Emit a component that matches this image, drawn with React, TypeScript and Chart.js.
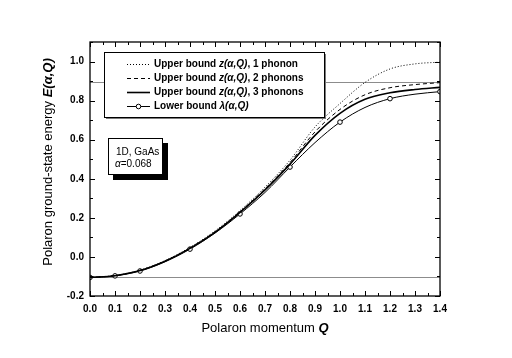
import React, { useEffect, useRef } from "react";
import { Chart, registerables } from "chart.js";

Chart.register(...registerables);

const qValues = [0, 0.1, 0.2, 0.3, 0.4, 0.5, 0.6, 0.7, 0.8, 0.9, 1.0, 1.1, 1.2, 1.3, 1.4];
const upper1 = [-0.105, -0.095, -0.068, -0.019, 0.049, 0.133, 0.237, 0.357, 0.495, 0.665, 0.785, 0.893, 0.962, 0.988, 0.997];
const upper2 = [-0.105, -0.096, -0.069, -0.021, 0.046, 0.129, 0.231, 0.349, 0.483, 0.640, 0.755, 0.830, 0.866, 0.882, 0.892];
const upper3 = [-0.105, -0.096, -0.070, -0.022, 0.044, 0.126, 0.228, 0.343, 0.475, 0.622, 0.735, 0.807, 0.840, 0.857, 0.868];
const lower = [-0.105, -0.097, -0.072, -0.025, 0.040, 0.122, 0.220, 0.330, 0.460, 0.585, 0.690, 0.765, 0.810, 0.833, 0.846];
const lowerMarkerQ = [0, 0.1, 0.2, 0.4, 0.6, 0.8, 1.0, 1.2, 1.4];
const groundLevel = -0.105;
const thresholdLevel = 0.895;
const xTicks = [0, 0.1, 0.2, 0.3, 0.4, 0.5, 0.6, 0.7, 0.8, 0.9, 1.0, 1.1, 1.2, 1.3, 1.4];
const yTicks = [-0.2, 0, 0.2, 0.4, 0.6, 0.8, 1.0];
const legendLabels = ["1 phonon", "2 phonons", "3 phonons"];

const FONT = "'Liberation Sans', Arial, sans-serif";

function drawMixed(ctx: CanvasRenderingContext2D, parts: { t: string; f: string }[], x: number, y: number, align: "left" | "center") {
  let total = 0;
  for (const p of parts) {
    ctx.font = p.f;
    total += ctx.measureText(p.t).width;
  }
  let cx = align === "center" ? x - total / 2 : x;
  ctx.textAlign = "left";
  ctx.textBaseline = "middle";
  for (const p of parts) {
    ctx.font = p.f;
    ctx.fillText(p.t, cx, y);
    cx += ctx.measureText(p.t).width;
  }
}

const framePlugin = {
  id: "frame",
  beforeDatasetsDraw(chart: any) {
    const { ctx, chartArea: a, scales } = chart;
    const ys = scales.y;
    ctx.save();
    ctx.strokeStyle = "#8c8c8c";
    ctx.lineWidth = 1;
    for (const v of [groundLevel, thresholdLevel]) {
      const py = Math.round(ys.getPixelForValue(v)) + 0.5;
      ctx.beginPath();
      ctx.moveTo(a.left, py);
      ctx.lineTo(a.right, py);
      ctx.stroke();
    }
    ctx.restore();
  },
  afterDatasetsDraw(chart: any) {
    const { ctx, chartArea: a, scales } = chart;
    const xs = scales.x;
    const ys = scales.y;
    ctx.save();
    ctx.strokeStyle = "#000";
    ctx.lineWidth = 1.3;
    ctx.strokeRect(a.left, a.top, a.right - a.left, a.bottom - a.top);
    ctx.lineWidth = 1;
    for (let i = 0; i <= 28; i++) {
      const v = i * 0.05;
      const px = Math.round(xs.getPixelForValue(v)) + 0.5;
      const len = i % 2 === 0 ? 5 : 3;
      ctx.beginPath();
      ctx.moveTo(px, a.bottom);
      ctx.lineTo(px, a.bottom - len);
      ctx.moveTo(px, a.top);
      ctx.lineTo(px, a.top + len);
      ctx.stroke();
    }
    for (let i = -2; i <= 11; i++) {
      const v = i * 0.1;
      const py = Math.round(ys.getPixelForValue(v)) + 0.5;
      const len = i % 2 === 0 ? 5 : 3;
      ctx.beginPath();
      ctx.moveTo(a.left, py);
      ctx.lineTo(a.left + len, py);
      ctx.moveTo(a.right, py);
      ctx.lineTo(a.right - len, py);
      ctx.stroke();
    }

    // legend box
    const lx = 104, ly = 52, lw = 220, lh = 65;
    ctx.fillStyle = "#7a7a7a";
    ctx.fillRect(lx + 2, ly + 2, lw, lh);
    ctx.fillStyle = "#fff";
    ctx.fillRect(lx, ly, lw, lh);
    ctx.strokeStyle = "#000";
    ctx.lineWidth = 1;
    ctx.strokeRect(lx + 0.5, ly + 0.5, lw, lh);
    const rows = [64, 78, 92, 106];
    const dashes = [[1, 2], [4, 3], [], []];
    const widths = [1, 1, 1.6, 1];
    const bold = `bold 10px ${FONT}`;
    const boldIt = `italic bold 10px ${FONT}`;
    for (let i = 0; i < 4; i++) {
      const ry = rows[i] + 0.5;
      ctx.strokeStyle = "#000";
      ctx.lineWidth = widths[i];
      ctx.setLineDash(dashes[i]);
      ctx.beginPath();
      ctx.moveTo(127, ry);
      ctx.lineTo(150, ry);
      ctx.stroke();
      ctx.setLineDash([]);
      if (i === 3) {
        ctx.lineWidth = 1;
        ctx.fillStyle = "#fff";
        ctx.beginPath();
        ctx.arc(138.5, ry, 2.3, 0, Math.PI * 2);
        ctx.fill();
        ctx.stroke();
      }
      ctx.fillStyle = "#000";
      if (i < 3) {
        drawMixed(ctx, [
          { t: "Upper bound ", f: bold },
          { t: "z(\u03b1,Q)", f: boldIt },
          { t: ", " + legendLabels[i], f: bold },
        ], 154, rows[i] + 0.5, "left");
      } else {
        drawMixed(ctx, [
          { t: "Lower bound ", f: bold },
          { t: "\u03bb(\u03b1,Q)", f: boldIt },
        ], 154, rows[i] + 0.5, "left");
      }
    }

    // info box
    const bx = 108, by = 138, bw = 55, bh = 37;
    ctx.fillStyle = "#000";
    ctx.fillRect(bx + 5, by + 5, bw, bh);
    ctx.fillStyle = "#fff";
    ctx.fillRect(bx, by, bw, bh);
    ctx.strokeStyle = "#000";
    ctx.lineWidth = 1;
    ctx.strokeRect(bx + 0.5, by + 0.5, bw - 1, bh - 1);
    ctx.fillStyle = "#000";
    drawMixed(ctx, [{ t: "1D, GaAs", f: `10px ${FONT}` }], 116, 152, "left");
    drawMixed(ctx, [
      { t: "\u03b1", f: `italic 10px ${FONT}` },
      { t: "=0.068", f: `10px ${FONT}` },
    ], 115, 164.5, "left");

    // axis titles
    const reg = `13px ${FONT}`;
    const bi = `italic bold 13px ${FONT}`;
    drawMixed(ctx, [
      { t: "Polaron momentum ", f: reg },
      { t: "Q", f: bi },
    ], 265, 328, "center");
    ctx.save();
    ctx.translate(48, 162);
    ctx.rotate(-Math.PI / 2);
    drawMixed(ctx, [
      { t: "Polaron ground-state energy ", f: reg },
      { t: "E(\u03b1,Q)", f: bi },
    ], 0, 0, "center");
    ctx.restore();
    ctx.restore();
  },
};

function toPts(ys: number[]) {
  return qValues.map((q, i) => ({ x: q, y: ys[i] }));
}

export default function App() {
  const ref = useRef<HTMLCanvasElement | null>(null);
  useEffect(() => {
    if (!ref.current) return;
    const common = {
      borderColor: "#000",
      cubicInterpolationMode: "monotone" as const,
      pointRadius: 0,
      fill: false,
    };
    const chart = new Chart(ref.current, {
      type: "line",
      data: {
        datasets: [
          { ...common, label: "1 phonon", data: toPts(upper1), borderWidth: 1, borderDash: [1, 2] },
          { ...common, label: "2 phonons", data: toPts(upper2), borderWidth: 1, borderDash: [4, 3] },
          { ...common, label: "3 phonons", data: toPts(upper3), borderWidth: 1.6 },
          {
            ...common,
            label: "lower",
            data: toPts(lower),
            borderWidth: 1,
            pointRadius: qValues.map((q) => (lowerMarkerQ.some((m) => Math.abs(m - q) < 1e-9) ? 2.3 : 0)),
            pointBackgroundColor: "#fff",
            pointBorderColor: "#000",
            pointBorderWidth: 1,
          },
        ],
      },
      options: {
        responsive: false,
        animation: false,
        devicePixelRatio: 1,
        layout: { padding: { left: 0, top: 42, right: 72, bottom: 0 } },
        plugins: { legend: { display: false }, tooltip: { enabled: false } },
        scales: {
          x: {
            type: "linear",
            min: 0,
            max: 1.4,
            afterBuildTicks: (s: any) => {
              s.ticks = xTicks.map((v) => ({ value: v }));
            },
            afterFit: (s: any) => {
              s.height = 62;
            },
            ticks: {
              callback: (v: any) => Number(v).toFixed(1),
              font: { family: FONT, size: 10, weight: "bold" },
              color: "#000",
              padding: 7,
              maxRotation: 0,
              autoSkip: false,
            },
            grid: { display: false, drawTicks: false },
            border: { display: false },
          },
          y: {
            type: "linear",
            min: -0.2,
            max: 1.1,
            afterBuildTicks: (s: any) => {
              s.ticks = yTicks.map((v) => ({ value: v }));
            },
            afterFit: (s: any) => {
              s.width = 90;
            },
            ticks: {
              callback: (v: any) => Number(v).toFixed(1),
              font: { family: FONT, size: 10, weight: "bold" },
              color: "#000",
              padding: 6,
              autoSkip: false,
            },
            grid: { display: false, drawTicks: false },
            border: { display: false },
          },
        },
      },
      plugins: [framePlugin],
    });
    return () => chart.destroy();
  }, []);
  return (
    <div style={{ position: "absolute", left: 0, top: 0, width: 512, height: 358, background: "#fff" }}>
      <canvas ref={ref} width={512} height={358} style={{ width: 512, height: 358, display: "block" }} />
    </div>
  );
}
